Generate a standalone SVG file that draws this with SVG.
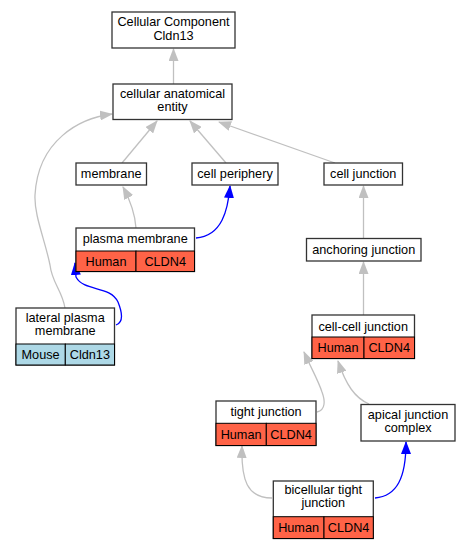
<svg xmlns="http://www.w3.org/2000/svg" width="471" height="549" viewBox="0 0 471 549">
<style>
text{font-family:"Liberation Sans",Arial,sans-serif;font-size:12.7px;fill:#000;text-anchor:middle}
.box{fill:#fff;stroke:#333;stroke-width:1.3}
.hu{fill:#ff6347;stroke:#000;stroke-width:1}
.mo{fill:#add8e6;stroke:#000;stroke-width:1}
.g{fill:none;stroke:#c0c0c0;stroke-width:1.3}
.b{fill:none;stroke:#0000ff;stroke-width:1.3}
</style>
<defs>
<marker id="ag" markerUnits="userSpaceOnUse" markerWidth="13" markerHeight="10" viewBox="0 0 13 10" refX="12" refY="5" orient="auto"><path d="M0,0L13,5L0,10z" fill="#c0c0c0"/></marker>
<marker id="ab" markerUnits="userSpaceOnUse" markerWidth="13" markerHeight="10" viewBox="0 0 13 10" refX="12" refY="5" orient="auto"><path d="M0,0L13,5L0,10z" fill="#0000ff"/></marker>
</defs>
<g id="edges">
<path class="g" marker-end="url(#ag)" d="M173.5,84 L173.5,49"/>
<path class="g" marker-end="url(#ag)" d="M122,163 L157,121"/>
<path class="g" marker-end="url(#ag)" d="M226,163 L190,121"/>
<path class="g" marker-end="url(#ag)" d="M335,163 L219,122"/>
<path class="g" marker-end="url(#ag)" d="M65,308 C62,290 52,283 50,265 C45,240 34,215 35,195 C38,140 80,118 112,114"/>
<path class="g" marker-end="url(#ag)" d="M136,228 C135,212 130,200 123,187"/>
<path class="b" marker-end="url(#ab)" d="M196,238 C222,236 228,210 230,186"/>
<path class="b" marker-end="url(#ab)" d="M116,325 C124,322 122,312 118,302 C110,285 84,292 76,277 L75,263"/>
<path class="g" marker-end="url(#ag)" d="M363.5,238 L363.5,186"/>
<path class="g" marker-end="url(#ag)" d="M363.5,315 L363.5,262"/>
<path class="g" marker-end="url(#ag)" d="M317,412 C326,410 325,400 322,392 C318,380 312,370 304,352"/>
<path class="g" marker-end="url(#ag)" d="M369,404 C355,398 346,385 338,361"/>
<path class="g" marker-end="url(#ag)" d="M272,498 C247,498 241,480 242,446"/>
<path class="b" marker-end="url(#ab)" d="M375,498 C397,496 406,478 406,442"/>
</g>
<g id="n_cc"><rect class="box" x="112" y="12" width="123" height="36"/><text x="173.5" y="26">Cellular Component</text><text x="173.5" y="39.5">Cldn13</text></g>
<g id="n_cae"><rect class="box" x="113" y="84" width="119" height="35.5"/><text x="172.5" y="98">cellular anatomical</text><text x="172.5" y="111">entity</text></g>
<g id="n_membrane"><rect class="box" x="76" y="163" width="70.5" height="22"/><text x="111.2" y="178">membrane</text></g>
<g id="n_periphery"><rect class="box" x="192" y="163" width="86" height="22"/><text x="235" y="178">cell periphery</text></g>
<g id="n_junction"><rect class="box" x="324" y="163" width="78.5" height="22"/><text x="363.2" y="178">cell junction</text></g>
<g id="n_plasma"><rect class="box" x="76" y="228" width="118.5" height="43.5"/><rect class="hu" x="76" y="251" width="60" height="20.5"/><rect class="hu" x="136" y="251" width="58.5" height="20.5"/><text x="135.2" y="243">plasma membrane</text><text x="106" y="265.5">Human</text><text x="165.2" y="265.5">CLDN4</text></g>
<g id="n_lateral"><rect class="box" x="16" y="308" width="98.5" height="57"/><rect class="mo" x="16" y="344" width="49.3" height="21"/><rect class="mo" x="65.3" y="344" width="49.2" height="21"/><text x="65.2" y="322">lateral plasma</text><text x="65.2" y="335">membrane</text><text x="40.6" y="358.5">Mouse</text><text x="89.9" y="358.5">Cldn13</text></g>
<g id="n_anchoring"><rect class="box" x="306.5" y="238.5" width="114.5" height="22.5"/><text x="363.7" y="253.5">anchoring junction</text></g>
<g id="n_cellcell"><rect class="box" x="312" y="315" width="102.5" height="43.5"/><rect class="hu" x="312" y="337" width="52" height="21.5"/><rect class="hu" x="364" y="337" width="50.5" height="21.5"/><text x="363.2" y="330.5">cell-cell junction</text><text x="338" y="352">Human</text><text x="389.2" y="352">CLDN4</text></g>
<g id="n_tight"><rect class="box" x="216" y="401" width="100" height="44.5"/><rect class="hu" x="216" y="423.3" width="50.3" height="22.2"/><rect class="hu" x="266.3" y="423.3" width="49.7" height="22.2"/><text x="266" y="416">tight junction</text><text x="241.1" y="438.5">Human</text><text x="291.1" y="438.5">CLDN4</text></g>
<g id="n_apical"><rect class="box" x="361" y="404.5" width="94" height="36.5"/><text x="408" y="419">apical junction</text><text x="408" y="432">complex</text></g>
<g id="n_bicellular"><rect class="box" x="273.3" y="481" width="100" height="57.5"/><rect class="hu" x="273.3" y="516.7" width="50.7" height="21.8"/><rect class="hu" x="324" y="516.7" width="49.3" height="21.8"/><text x="323.3" y="494">bicellular tight</text><text x="323.3" y="507">junction</text><text x="298.6" y="531.5">Human</text><text x="348.6" y="531.5">CLDN4</text></g>
</svg>
